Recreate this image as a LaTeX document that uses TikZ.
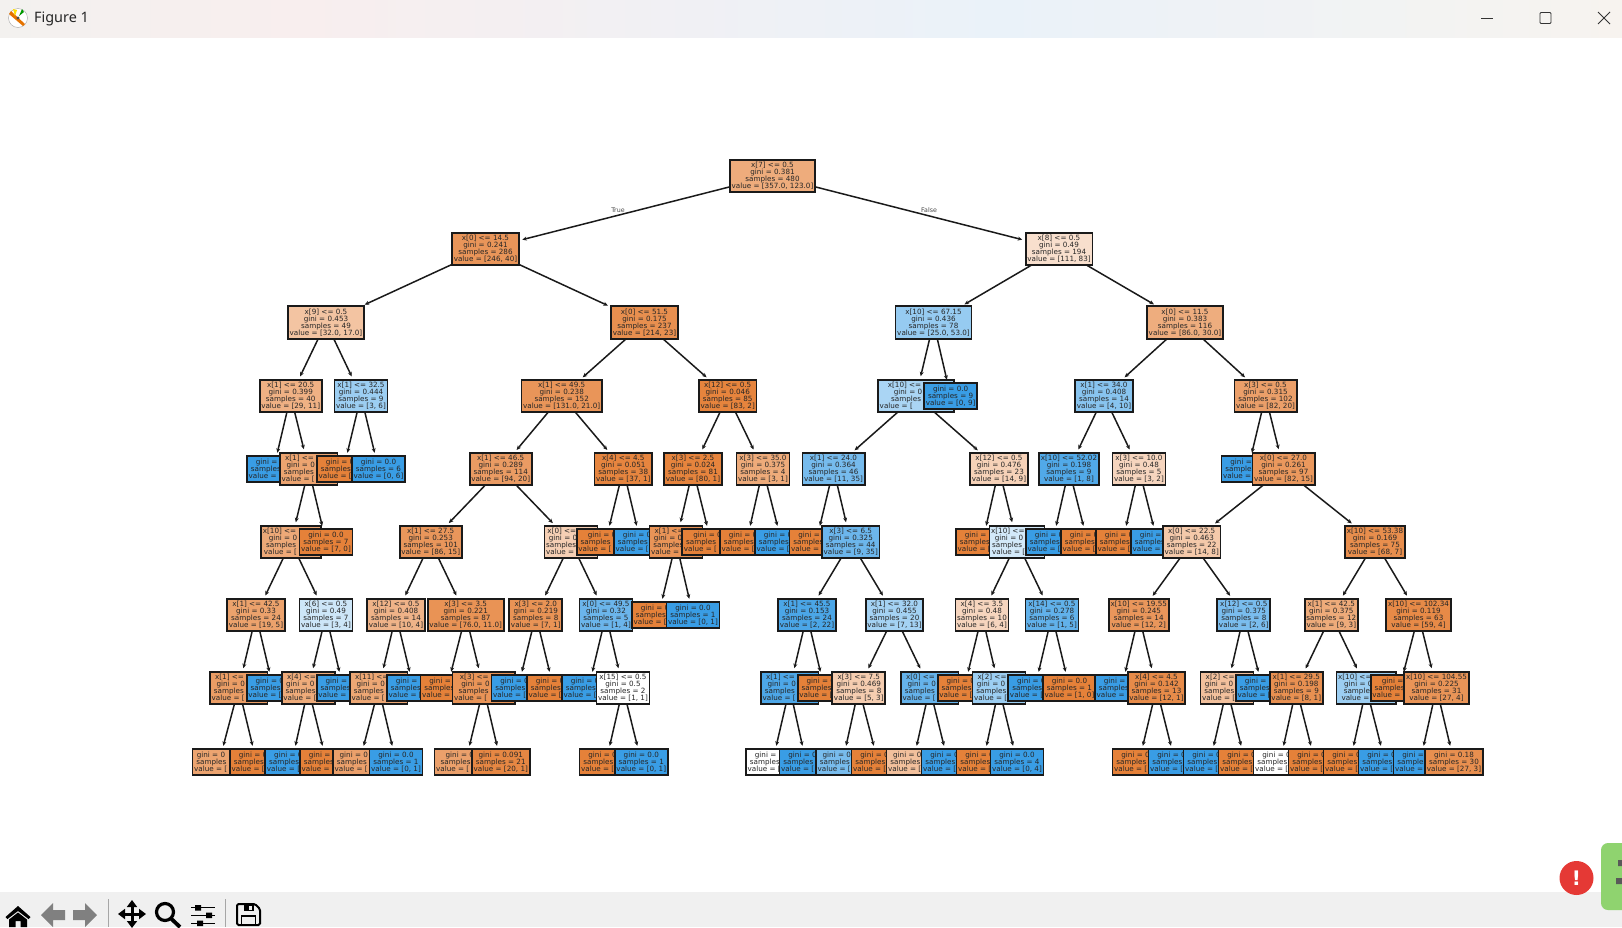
\documentclass[tikz,border=0pt]{standalone}
\usepackage{fontspec}
\setmainfont{DejaVu Sans}
\newfontfamily\titlefont{Noto Sans}
\usetikzlibrary{arrows.meta,backgrounds}
\definecolor{treeorange}{HTML}{E58139}
\definecolor{treeblue}{HTML}{399DE5}
\definecolor{treeline}{HTML}{1A1A1A}
\definecolor{treetext}{HTML}{262626}
\definecolor{barcolor}{HTML}{F0F0F0}
\definecolor{alertred}{HTML}{E53935}
\definecolor{sidegreen}{HTML}{8FD36F}
\definecolor{titleleft}{HTML}{F3F1EF}
\definecolor{titlepink}{HTML}{F8EEEE}
\definecolor{titleblue}{HTML}{EAF2F9}
\definecolor{titlecream}{HTML}{F7F3EF}
% parts of a label that a later box covers keep their width only
\newcommand{\hid}[1]{\phantom{#1}}
\newcommand{\cutleaf}[3]{gini = 0\hid{#1}\\samples\hid{ = #2}\\value = [\hid{#3}}
\newcommand{\cutsplit}[4]{#1 <= \hid{#2}\\gini = 0\hid{.000}\\samples\hid{ = #3}\\value = [\hid{#4}}
\tikzset{
  treebox/.style={
    rectangle, draw=treeline, line width=1.8pt, text=treetext,
    font=\fontsize{7.2}{7.1}\selectfont, align=center,
    inner xsep=1.7pt, inner ysep=2.5pt, outer sep=0pt
  },
  orangebox/.style={treebox, fill=treeorange!#1},
  orangebox/.default=100,
  bluebox/.style={treebox, fill=treeblue!#1},
  bluebox/.default=100,
  treearrow/.style={
    -{Stealth[length=4.5pt,width=4pt]}, line width=1.5pt, color=treeline,
    shorten >=3.5pt
  },
  branchlabel/.style={
    font=\fontsize{6.3}{6.3}\selectfont, text=treetext!85, inner sep=0pt
  },
  toolicon/.style={fill=black, draw=none},
  greyicon/.style={fill=black!50, draw=none},
  toolsep/.style={draw=black!35, line width=0.8pt},
}
\begin{document}
\begin{tikzpicture}[x=1pt, y=-1pt]
\useasboundingbox (0,0) rectangle (1622,927);

% WINDOW: title bar
\shade[left color=titleleft, right color=titlepink] (0,0) rectangle (300,37);
\shade[left color=titlepink, right color=titleblue] (300,0) rectangle (1000,37);
\shade[left color=titleblue, right color=titlecream] (1000,0) rectangle (1622,37);
\draw[black!35, fill=white] (18,18) circle (9.5);
\fill[orange!90!black] (11,11) -- (25,24) -- (23,26) -- (9,14) -- cycle;
\fill[yellow!80!orange] (15,16) -- (13,9) -- (17,10) -- cycle;
\fill[green!60!black] (19,16) -- (22,9) -- (24,12) -- cycle;
\fill[black!70] (18,18) circle (1.6);
\node[font=\titlefont\fontsize{14.4}{16}\selectfont, text=black!85, anchor=west, inner sep=0pt] (title) at (34,18.5) {Figure 1};
\draw[black!80, line width=0.9pt] (1481,18) -- (1493,18);
\draw[black!80, line width=0.9pt, rounded corners=1pt] (1540,12.5) rectangle (1551,23.5);
\draw[black!80, line width=0.9pt] (1598,12) -- (1610,24) (1610,12) -- (1598,24);

% WINDOW: toolbar
\fill[barcolor] (0,892) rectangle (1622,927);
\fill[toolicon] (5.5,917) -- (18,906) -- (30.5,917) -- (28.5,919) -- (18,911) -- (7.5,919) -- cycle;
\fill[toolicon] (9,919.5) -- (18,912.5) -- (27,919.5) -- (27,927) -- (20.5,927) -- (20.5,921) -- (15.5,921) -- (15.5,927) -- (9,927) -- cycle;
\fill[greyicon] (41,915) -- (53,903) -- (53,910) -- (65,910) -- (65,920) -- (53,920) -- (53,927) -- cycle;
\fill[greyicon] (97,915) -- (85,903) -- (85,910) -- (73,910) -- (73,920) -- (85,920) -- (85,927) -- cycle;
\draw[toolsep] (108,899) -- (108,927);
\draw[line width=3pt, {Triangle[length=7pt,width=10pt]}-{Triangle[length=7pt,width=10pt]}] (118,914) -- (146,914);
\draw[line width=3pt, {Triangle[length=7pt,width=10pt]}-{Triangle[length=7pt,width=10pt]}] (132,900) -- (132,928);
\draw[line width=3.2pt] (165,912) circle (8.5);
\draw[line width=3.8pt] (171,918.5) -- (180,927);
\draw[line width=1.1pt] (191,907.7) -- (215,907.7) (191,915.3) -- (215,915.3) (191,923.3) -- (215,923.3);
\fill[toolicon] (195,905) rectangle (201,910.5) (206,912.5) rectangle (212,918) (197,920.5) rectangle (203,926);
\draw[toolsep] (225,899) -- (225,927);
\draw[line width=2pt, rounded corners=1.5pt] (237,904) -- (255,904) -- (260,909) -- (260,925) -- (237,925) -- cycle;
\fill[toolicon] (244,904) rectangle (254,911);
\fill[barcolor] (249,905.5) rectangle (252,909.5);
\draw[line width=1.6pt] (241.5,925) -- (241.5,916) -- (255.5,916) -- (255.5,925);

% WINDOW: badges in the corner
\fill[sidegreen, rounded corners=7pt] (1601,843) rectangle (1630,910);
\fill[black!65] (1618,860) rectangle (1622,866) (1616,878) rectangle (1622,884);
\node[circle, fill=alertred, minimum size=34pt, inner sep=0pt, text=white, font=\bfseries\fontsize{20}{20}\selectfont] (alert) at (1576.5,878) {!};

% DEPTH 8: deepest boxes go first, the shallower ones lie on them
\node[orangebox=72] (d8a) at (219,762) {\cutleaf{.375}{8}{0, 0]}};
\node[orangebox] (d8b) at (256.5,762) {\cutleaf{.0}{8}{0, 0]}};
\node[bluebox] (d8c) at (291.8,762) {\cutleaf{.0}{3}{0, 3]}};
\node[orangebox] (d8d) at (326.5,762) {\cutleaf{.0}{3}{3, 0]}};
\node[orangebox=75] (d8e) at (359.5,762) {\cutleaf{.32}{5}{4, 1]}};
\node[bluebox] (d8f) at (396,762) {gini = 0.0\\samples = 1\\value = [0, 1]};
\node[orangebox=75] (d8g) at (465.5,762) {\cutleaf{.32}{50}{40, 10]}};
\node[orangebox=95] (d8h) at (500.8,762) {gini = 0.091\\samples = 21\\value = [20, 1]};
\node[orangebox] (d8i) at (606,762) {\cutleaf{.0}{1}{1, 0]}};
\node[bluebox] (d8j) at (641.3,762) {gini = 0.0\\samples = 1\\value = [0, 1]};
\node[orangebox=0] (d8k) at (772.5,762) {\cutleaf{.5}{2}{1, 1]}};
\node[bluebox] (d8l) at (806,762) {\cutleaf{.0}{9}{0, 9]}};
\node[bluebox=68] (d8m) at (842.5,762) {\cutleaf{.44}{3}{1, 2]}};
\node[orangebox] (d8n) at (878,762) {\cutleaf{.0}{4}{4, 0]}};
\node[orangebox=50] (d8o) at (913,762) {\cutleaf{.44}{3}{2, 1]}};
\node[bluebox] (d8p) at (948,762) {\cutleaf{.0}{9}{0, 9]}};
\node[orangebox] (d8q) at (983,762) {\cutleaf{.0}{2}{2, 0]}};
\node[bluebox] (d8r) at (1017,762) {gini = 0.0\\samples = 4\\value = [0, 4]};
\node[orangebox] (d8s) at (1139,762) {\cutleaf{.0}{9}{9, 0]}};
\node[bluebox] (d8t) at (1175,762) {\cutleaf{.0}{1}{0, 1]}};
\node[bluebox] (d8u) at (1210,762) {\cutleaf{.0}{1}{0, 1]}};
\node[orangebox] (d8v) at (1245,762) {\cutleaf{.0}{2}{2, 0]}};
\node[orangebox=0] (d8w) at (1280,762) {\cutleaf{.5}{2}{1, 1]}};
\node[orangebox] (d8x) at (1315,762) {\cutleaf{.0}{7}{7, 0]}};
\node[orangebox] (d8y) at (1350,762) {\cutleaf{.0}{1}{1, 0]}};
\node[bluebox] (d8z) at (1385,762) {\cutleaf{.0}{2}{0, 2]}};
\node[bluebox] (d8aa) at (1420,762) {\cutleaf{.0}{1}{0, 1]}};
\node[orangebox=89] (d8ab) at (1454,762) {gini = 0.18\\samples = 30\\value = [27, 3]};

% DEPTH 7
\node[orangebox=78] (d7a) at (238.7,688) {\cutsplit{x[1]}{00.0}{00}{00, 0]}};
\node[bluebox] (d7b) at (273.2,688) {\cutleaf{.0}{2}{0, 2]}};
\node[orangebox=67] (d7c) at (308.3,688) {\cutsplit{x[4]}{0.0}{4}{3, 1]}};
\node[bluebox] (d7d) at (343.2,688) {\cutleaf{.0}{3}{0, 3]}};
\node[orangebox=70] (d7e) at (378.7,688) {\cutsplit{x[11]}{0.0}{00}{00, 0]}};
\node[bluebox] (d7f) at (413.5,688) {\cutleaf{.0}{1}{0, 1]}};
\node[orangebox] (d7g) at (447,688) {\cutleaf{.0}{9}{9, 0]}};
\node[orangebox=85] (d7h) at (483.5,688) {\cutsplit{x[3]}{00.0}{00}{00, 00]}};
\node[bluebox] (d7i) at (518,688) {\cutleaf{.0}{1}{0, 1]}};
\node[orangebox] (d7j) at (553.5,688) {\cutleaf{.0}{7}{7, 0]}};
\node[bluebox] (d7k) at (588.5,688) {\cutleaf{.0}{3}{0, 3]}};
\node[orangebox=0] (d7l) at (623,688) {x[15] <= 0.5\\gini = 0.5\\samples = 2\\value = [1, 1]};
\node[bluebox=90] (d7m) at (789.7,688) {\cutsplit{x[1]}{00.0}{00}{0, 00]}};
\node[orangebox] (d7n) at (824.2,688) {\cutleaf{.0}{1}{1, 0]}};
\node[orangebox=40] (d7o) at (858.8,688) {x[3] <= 7.5\\gini = 0.469\\samples = 8\\value = [5, 3]};
\node[bluebox=78] (d7p) at (929.7,688) {\cutsplit{x[0]}{00.0}{00}{0, 00]}};
\node[orangebox] (d7q) at (964.2,688) {\cutleaf{.0}{4}{4, 0]}};
\node[bluebox=50] (d7r) at (999,688) {\cutsplit{x[2]}{0.0}{6}{2, 4]}};
\node[bluebox] (d7s) at (1034.8,688) {\cutleaf{.0}{5}{0, 5]}};
\node[orangebox] (d7t) at (1069.5,688) {gini = 0.0\\samples = 1\\value = [1, 0]};
\node[bluebox] (d7u) at (1121.5,688) {\cutleaf{.0}{1}{0, 1]}};
\node[orangebox=92] (d7v) at (1156.5,688) {x[4] <= 4.5\\gini = 0.142\\samples = 13\\value = [12, 1]};
\node[orangebox=50] (d7w) at (1227,688) {\cutsplit{x[2]}{0.0}{3}{2, 1]}};
\node[bluebox] (d7x) at (1262.5,688) {\cutleaf{.0}{5}{0, 5]}};
\node[orangebox=88] (d7y) at (1296.3,688) {x[1] <= 29.5\\gini = 0.198\\samples = 9\\value = [8, 1]};
\node[bluebox=50] (d7z) at (1366.3,688) {\cutsplit{x[10]}{00.00}{3}{1, 2]}};
\node[orangebox] (d7aa) at (1399.5,688) {\cutleaf{.0}{32}{32, 0]}};
\node[orangebox=85] (d7ab) at (1436.5,688) {x[10] <= 104.55\\gini = 0.225\\samples = 31\\value = [27, 4]};

% DEPTH 6
\node[orangebox=74] (d6a) at (256,615) {x[1] <= 42.5\\gini = 0.33\\samples = 24\\value = [19, 5]};
\node[bluebox=25] (d6b) at (326,615) {x[6] <= 0.5\\gini = 0.49\\samples = 7\\value = [3, 4]};
\node[orangebox=60] (d6c) at (396,615) {x[12] <= 0.5\\gini = 0.408\\samples = 14\\value = [10, 4]};
\node[orangebox=86] (d6d) at (465.7,615) {x[3] <= 3.5\\gini = 0.221\\samples = 87\\value = [76.0, 11.0]};
\node[orangebox=86] (d6e) at (535.8,615) {x[3] <= 2.0\\gini = 0.219\\samples = 8\\value = [7, 1]};
\node[bluebox=75] (d6f) at (606,615) {x[0] <= 49.5\\gini = 0.32\\samples = 5\\value = [1, 4]};
\node[orangebox] (d6g) at (658.5,615) {\cutleaf{.0}{1}{1, 0]}};
\node[bluebox] (d6h) at (693,615) {gini = 0.0\\samples = 1\\value = [0, 1]};
\node[bluebox=91] (d6i) at (807,615) {x[1] <= 45.5\\gini = 0.153\\samples = 24\\value = [2, 22]};
\node[bluebox=46] (d6j) at (894.5,615) {x[1] <= 32.0\\gini = 0.455\\samples = 20\\value = [7, 13]};
\node[orangebox=33] (d6k) at (982,615) {x[4] <= 3.5\\gini = 0.48\\samples = 10\\value = [6, 4]};
\node[bluebox=80] (d6l) at (1052,615) {x[14] <= 0.5\\gini = 0.278\\samples = 6\\value = [1, 5]};
\node[orangebox=83] (d6m) at (1138.8,615) {x[10] <= 19.55\\gini = 0.245\\samples = 14\\value = [12, 2]};
\node[bluebox=67] (d6n) at (1243.8,615) {x[12] <= 0.5\\gini = 0.375\\samples = 8\\value = [2, 6]};
\node[orangebox=67] (d6o) at (1331.3,615) {x[1] <= 42.5\\gini = 0.375\\samples = 12\\value = [9, 3]};
\node[orangebox=93] (d6p) at (1418.5,615) {x[10] <= 102.34\\gini = 0.119\\samples = 63\\value = [59, 4]};

% DEPTH 5
\node[orangebox=68] (d5a) at (291,542) {\cutsplit{x[10]}{00.00}{29}{22, 7]}};
\node[orangebox] (d5b) at (326,542) {gini = 0.0\\samples = 7\\value = [7, 0]};
\node[orangebox=83] (d5c) at (430.7,542) {x[1] <= 27.5\\gini = 0.253\\samples = 101\\value = [86, 15]};
\node[orangebox=38] (d5d) at (571,542) {\cutsplit{x[0]}{00.0}{13}{8, 5]}};
\node[orangebox] (d5e) at (605.5,542) {\cutleaf{.0}{37}{37, 0]}};
\node[bluebox] (d5f) at (640.5,542) {\cutleaf{.0}{1}{0, 1]}};
\node[orangebox=85] (d5g) at (676,542) {\cutsplit{x[1]}{0.0}{5}{4, 1]}};
\node[orangebox] (d5h) at (711,542) {\cutleaf{.0}{76}{76, 0]}};
\node[orangebox] (d5i) at (746.5,542) {\cutleaf{.0}{3}{3, 0]}};
\node[bluebox] (d5j) at (781.5,542) {\cutleaf{.0}{1}{0, 1]}};
\node[orangebox] (d5k) at (816,542) {\cutleaf{.0}{2}{2, 0]}};
\node[bluebox=74] (d5l) at (850.7,542) {x[3] <= 6.5\\gini = 0.325\\samples = 44\\value = [9, 35]};
\node[orangebox] (d5m) at (982.5,542) {\cutleaf{.0}{7}{7, 0]}};
\node[bluebox=22] (d5n) at (1017,542) {\cutsplit{x[10]}{00.0}{16}{7, 9]}};
\node[bluebox] (d5o) at (1052.5,542) {\cutleaf{.0}{8}{0, 8]}};
\node[orangebox] (d5p) at (1087.5,542) {\cutleaf{.0}{1}{1, 0]}};
\node[orangebox] (d5q) at (1122.5,542) {\cutleaf{.0}{3}{3, 0]}};
\node[bluebox] (d5r) at (1157.5,542) {\cutleaf{.0}{2}{0, 2]}};
\node[orangebox=43] (d5s) at (1191.7,542) {x[0] <= 22.5\\gini = 0.463\\samples = 22\\value = [14, 8]};
\node[orangebox=90] (d5t) at (1375,542) {x[10] <= 53.38\\gini = 0.169\\samples = 75\\value = [68, 7]};

% DEPTH 4
\node[bluebox] (d4a) at (273.5,469) {\cutleaf{.0}{4}{0, 4]}};
\node[orangebox=72] (d4b) at (308.7,469) {\cutsplit{x[1]}{00.0}{36}{29, 7]}};
\node[orangebox] (d4c) at (343.5,469) {\cutleaf{.0}{3}{3, 0]}};
\node[bluebox] (d4d) at (378.5,469) {gini = 0.0\\samples = 6\\value = [0, 6]};
\node[orangebox=79] (d4e) at (500.7,469) {x[1] <= 46.5\\gini = 0.289\\samples = 114\\value = [94, 20]};
\node[orangebox=97] (d4f) at (623.3,469) {x[4] <= 4.5\\gini = 0.051\\samples = 38\\value = [37, 1]};
\node[orangebox=98] (d4g) at (693,469) {x[3] <= 2.5\\gini = 0.024\\samples = 81\\value = [80, 1]};
\node[orangebox=67] (d4h) at (763,469) {x[3] <= 35.0\\gini = 0.375\\samples = 4\\value = [3, 1]};
\node[bluebox=69] (d4i) at (833.5,469) {x[1] <= 24.0\\gini = 0.364\\samples = 46\\value = [11, 35]};
\node[orangebox=36] (d4j) at (999,469) {x[12] <= 0.5\\gini = 0.476\\samples = 23\\value = [14, 9]};
\node[bluebox=88] (d4k) at (1069,469) {x[10] <= 52.02\\gini = 0.198\\samples = 9\\value = [1, 8]};
\node[orangebox=33] (d4l) at (1139,469) {x[3] <= 10.0\\gini = 0.48\\samples = 5\\value = [3, 2]};
\node[bluebox] (d4m) at (1248,469) {\cutleaf{.0}{5}{0, 5]}};
\node[orangebox=82] (d4n) at (1283.5,469) {x[0] <= 27.0\\gini = 0.261\\samples = 97\\value = [82, 15]};

% DEPTH 3
\node[orangebox=62] (d3a) at (290.7,396) {x[1] <= 20.5\\gini = 0.399\\samples = 40\\value = [29, 11]};
\node[bluebox=50] (d3b) at (361,396) {x[1] <= 32.5\\gini = 0.444\\samples = 9\\value = [3, 6]};
\node[orangebox=84] (d3c) at (561.7,396) {x[1] <= 49.5\\gini = 0.238\\samples = 152\\value = [131.0, 21.0]};
\node[orangebox=98] (d3d) at (727.7,396) {x[12] <= 0.5\\gini = 0.046\\samples = 85\\value = [83, 2]};
\node[bluebox=43] (d3e) at (916,396) {\cutsplit{x[10]}{00.00}{69}{25.0, 44.0]}};
\node[bluebox] (d3f) at (950.6,396) {gini = 0.0\\samples = 9\\value = [0, 9]};
\node[bluebox=60] (d3g) at (1104,396) {x[1] <= 34.0\\gini = 0.408\\samples = 14\\value = [4, 10]};
\node[orangebox=76] (d3h) at (1265.5,396) {x[3] <= 0.5\\gini = 0.315\\samples = 102\\value = [82, 20]};

% DEPTH 2
\node[orangebox=47] (d2a) at (326,322.5) {x[9] <= 0.5\\gini = 0.453\\samples = 49\\value = [32.0, 17.0]};
\node[orangebox=89] (d2b) at (644.5,322.5) {x[0] <= 51.5\\gini = 0.175\\samples = 237\\value = [214, 23]};
\node[bluebox=53] (d2c) at (933.5,322.5) {x[10] <= 67.15\\gini = 0.436\\samples = 78\\value = [25.0, 53.0]};
\node[orangebox=65] (d2d) at (1185,322.5) {x[0] <= 11.5\\gini = 0.383\\samples = 116\\value = [86.0, 30.0]};

% DEPTH 1 and root
\node[orangebox=84] (d1a) at (485.5,249) {x[0] <= 14.5\\gini = 0.241\\samples = 286\\value = [246, 40]};
\node[orangebox=25] (d1b) at (1059,249) {x[8] <= 0.5\\gini = 0.49\\samples = 194\\value = [111, 83]};
\node[orangebox=66] (root) at (772.5,176) {x[7] <= 0.5\\gini = 0.381\\samples = 480\\value = [357.0, 123.0]};

% Branch labels
\node[branchlabel] (truelabel) at (618,210.5) {True};
\node[branchlabel] (falselabel) at (929,210.5) {False};

% EDGES, kept behind all the boxes
\begin{scope}[on background layer]
\draw[treearrow] (root) -- (d1a);
\draw[treearrow] (root) -- (d1b);
\draw[treearrow] (d1a) -- (d2a);
\draw[treearrow] (d1a) -- (d2b);
\draw[treearrow] (d1b) -- (d2c);
\draw[treearrow] (d1b) -- (d2d);
\draw[treearrow] (d2a) -- (d3a);
\draw[treearrow] (d2a) -- (d3b);
\draw[treearrow] (d2b) -- (d3c);
\draw[treearrow] (d2b) -- (d3d);
\draw[treearrow] (d2c) -- (d3e);
\draw[treearrow] (d2c) -- (d3f);
\draw[treearrow] (d2d) -- (d3g);
\draw[treearrow] (d2d) -- (d3h);
\draw[treearrow] (d3a) -- (d4a);
\draw[treearrow] (d3a) -- (d4b);
\draw[treearrow] (d3b) -- (d4c);
\draw[treearrow] (d3b) -- (d4d);
\draw[treearrow] (d3c) -- (d4e);
\draw[treearrow] (d3c) -- (d4f);
\draw[treearrow] (d3d) -- (d4g);
\draw[treearrow] (d3d) -- (d4h);
\draw[treearrow] (d3e) -- (d4i);
\draw[treearrow] (d3e) -- (d4j);
\draw[treearrow] (d3g) -- (d4k);
\draw[treearrow] (d3g) -- (d4l);
\draw[treearrow] (d3h) -- (d4m);
\draw[treearrow] (d3h) -- (d4n);
\draw[treearrow] (d4b) -- (d5a);
\draw[treearrow] (d4b) -- (d5b);
\draw[treearrow] (d4e) -- (d5c);
\draw[treearrow] (d4e) -- (d5d);
\draw[treearrow] (d4f) -- (d5e);
\draw[treearrow] (d4f) -- (d5f);
\draw[treearrow] (d4g) -- (d5g);
\draw[treearrow] (d4g) -- (d5h);
\draw[treearrow] (d4h) -- (d5i);
\draw[treearrow] (d4h) -- (d5j);
\draw[treearrow] (d4i) -- (d5k);
\draw[treearrow] (d4i) -- (d5l);
\draw[treearrow] (d4j) -- (d5m);
\draw[treearrow] (d4j) -- (d5n);
\draw[treearrow] (d4k) -- (d5o);
\draw[treearrow] (d4k) -- (d5p);
\draw[treearrow] (d4l) -- (d5q);
\draw[treearrow] (d4l) -- (d5r);
\draw[treearrow] (d4n) -- (d5s);
\draw[treearrow] (d4n) -- (d5t);
\draw[treearrow] (d5a) -- (d6a);
\draw[treearrow] (d5a) -- (d6b);
\draw[treearrow] (d5c) -- (d6c);
\draw[treearrow] (d5c) -- (d6d);
\draw[treearrow] (d5d) -- (d6e);
\draw[treearrow] (d5d) -- (d6f);
\draw[treearrow] (d5g) -- (d6g);
\draw[treearrow] (d5g) -- (d6h);
\draw[treearrow] (d5l) -- (d6i);
\draw[treearrow] (d5l) -- (d6j);
\draw[treearrow] (d5n) -- (d6k);
\draw[treearrow] (d5n) -- (d6l);
\draw[treearrow] (d5s) -- (d6m);
\draw[treearrow] (d5s) -- (d6n);
\draw[treearrow] (d5t) -- (d6o);
\draw[treearrow] (d5t) -- (d6p);
\draw[treearrow] (d6a) -- (d7a);
\draw[treearrow] (d6a) -- (d7b);
\draw[treearrow] (d6b) -- (d7c);
\draw[treearrow] (d6b) -- (d7d);
\draw[treearrow] (d6c) -- (d7e);
\draw[treearrow] (d6c) -- (d7f);
\draw[treearrow] (d6d) -- (d7g);
\draw[treearrow] (d6d) -- (d7h);
\draw[treearrow] (d6e) -- (d7i);
\draw[treearrow] (d6e) -- (d7j);
\draw[treearrow] (d6f) -- (d7k);
\draw[treearrow] (d6f) -- (d7l);
\draw[treearrow] (d6i) -- (d7m);
\draw[treearrow] (d6i) -- (d7n);
\draw[treearrow] (d6j) -- (d7o);
\draw[treearrow] (d6j) -- (d7p);
\draw[treearrow] (d6k) -- (d7q);
\draw[treearrow] (d6k) -- (d7r);
\draw[treearrow] (d6l) -- (d7s);
\draw[treearrow] (d6l) -- (d7t);
\draw[treearrow] (d6m) -- (d7u);
\draw[treearrow] (d6m) -- (d7v);
\draw[treearrow] (d6n) -- (d7w);
\draw[treearrow] (d6n) -- (d7x);
\draw[treearrow] (d6o) -- (d7y);
\draw[treearrow] (d6o) -- (d7z);
\draw[treearrow] (d6p) -- (d7aa);
\draw[treearrow] (d6p) -- (d7ab);
\draw[treearrow] (d7a) -- (d8a);
\draw[treearrow] (d7a) -- (d8b);
\draw[treearrow] (d7c) -- (d8c);
\draw[treearrow] (d7c) -- (d8d);
\draw[treearrow] (d7e) -- (d8e);
\draw[treearrow] (d7e) -- (d8f);
\draw[treearrow] (d7h) -- (d8g);
\draw[treearrow] (d7h) -- (d8h);
\draw[treearrow] (d7l) -- (d8i);
\draw[treearrow] (d7l) -- (d8j);
\draw[treearrow] (d7m) -- (d8k);
\draw[treearrow] (d7m) -- (d8l);
\draw[treearrow] (d7o) -- (d8m);
\draw[treearrow] (d7o) -- (d8n);
\draw[treearrow] (d7p) -- (d8o);
\draw[treearrow] (d7p) -- (d8p);
\draw[treearrow] (d7r) -- (d8q);
\draw[treearrow] (d7r) -- (d8r);
\draw[treearrow] (d7v) -- (d8s);
\draw[treearrow] (d7v) -- (d8t);
\draw[treearrow] (d7w) -- (d8u);
\draw[treearrow] (d7w) -- (d8v);
\draw[treearrow] (d7y) -- (d8w);
\draw[treearrow] (d7y) -- (d8x);
\draw[treearrow] (d7z) -- (d8y);
\draw[treearrow] (d7z) -- (d8z);
\draw[treearrow] (d7ab) -- (d8aa);
\draw[treearrow] (d7ab) -- (d8ab);
\end{scope}

\end{tikzpicture}
\end{document}
